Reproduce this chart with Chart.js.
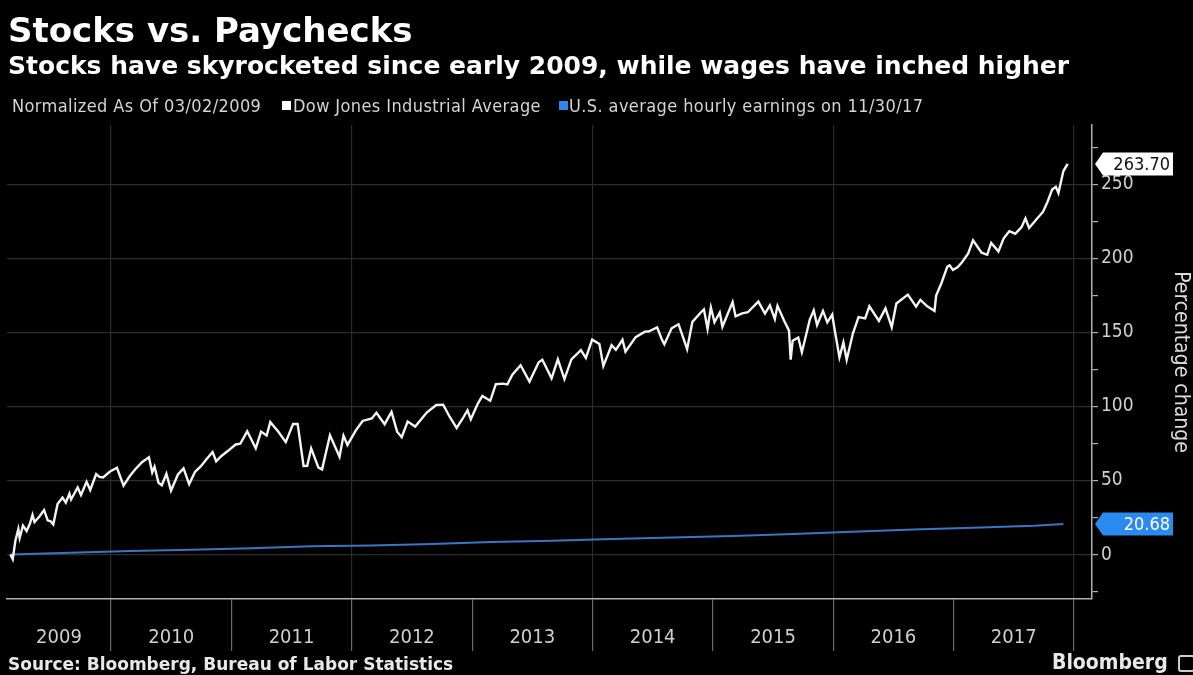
<!DOCTYPE html>
<html>
<head>
<meta charset="utf-8">
<script src="https://cdn.jsdelivr.net/npm/chart.js@4.4.1/dist/chart.umd.min.js"></script>
<style>
    html, body { margin: 0; padding: 0; background: #000; }
    #wrap { position: relative; width: 1193px; height: 675px; background: #000; overflow: hidden;
            font-family: "DejaVu Sans", sans-serif; }
    #wrap canvas { position: absolute; left: 0; top: 0; }
    .txt { position: absolute; white-space: nowrap; line-height: 1; }
    .title { left: 8px; top: 13px; font-size: 34px; font-weight: bold; color: #fff; }
    .subtitle { left: 8px; top: 53px; font-size: 25px; font-weight: bold; color: #fff; }
    .legend { top: 97px; font-size: 18px; letter-spacing: 0.4px; color: #d4d4d4;
              font-family: "DejaVu Sans Condensed", "DejaVu Sans", sans-serif; }
    .sq { position: absolute; top: 101px; width: 9px; height: 9px; }
    .source { left: 8px; top: 656px; font-size: 17px; font-weight: bold; color: #e8e8e8; }
    .brand { left: 1052px; top: 652px; font-size: 21px; font-weight: bold; color: #e8e8e8;
             font-family: "DejaVu Sans Condensed", "DejaVu Sans", sans-serif; }
    .logo { position: absolute; left: 1178px; top: 655px; width: 13px; height: 13px; border: 2px solid #ccc; border-radius: 3px; }
</style>
</head>
<body>
<div id="wrap">
    <canvas id="paycheckChart"></canvas>
    <div class="txt title">Stocks vs. Paychecks</div>
    <div class="txt subtitle">Stocks have skyrocketed since early 2009, while wages have inched higher</div>
    <div class="txt legend" style="left:12px">Normalized As Of 03/02/2009</div>
    <div class="sq" style="left:282px;background:#fff"></div>
    <div class="txt legend" style="left:293px">Dow Jones Industrial Average</div>
    <div class="sq" style="left:559px;background:#2f86e8"></div>
    <div class="txt legend" style="left:569px">U.S. average hourly earnings on 11/30/17</div>
    <div class="txt source">Source: Bloomberg, Bureau of Labor Statistics</div>
    <div class="txt brand">Bloomberg</div>
    <div class="logo"></div>
</div>
<script>
// Dow Jones, % change since 03/02/2009
const djDates = [
    '2009-03-02','2009-03-09','2009-03-17','2009-03-26','2009-03-30','2009-04-09','2009-04-20','2009-04-30',
    '2009-05-08','2009-05-14','2009-05-29','2009-06-12','2009-06-23','2009-07-02','2009-07-10','2009-07-23',
    '2009-08-07','2009-08-17','2009-08-28','2009-09-02','2009-09-22','2009-10-02','2009-10-19','2009-10-30',
    '2009-11-17','2009-11-27','2009-12-08','2009-12-28',
    '2010-01-19','2010-02-08','2010-02-26','2010-03-15','2010-04-05','2010-04-26','2010-05-06','2010-05-13',
    '2010-05-25','2010-06-04','2010-06-18','2010-07-02','2010-07-23','2010-08-09','2010-08-26','2010-09-13',
    '2010-09-30','2010-10-15','2010-11-05','2010-11-16','2010-12-01','2010-12-20',
    '2011-01-14','2011-01-28','2011-02-18','2011-03-16','2011-04-01','2011-04-18','2011-04-29','2011-05-23',
    '2011-06-15','2011-07-07','2011-07-21','2011-08-08','2011-08-19','2011-08-31','2011-09-22','2011-10-03',
    '2011-10-27','2011-11-25','2011-12-07','2011-12-19',
    '2012-01-13','2012-02-03','2012-03-02','2012-03-16','2012-04-10','2012-05-01','2012-05-18','2012-06-01',
    '2012-06-19','2012-07-12','2012-08-16','2012-09-14','2012-10-05','2012-10-23','2012-11-15','2012-12-03',
    '2012-12-18','2012-12-28',
    '2013-01-18','2013-02-01','2013-02-25','2013-03-14','2013-04-05','2013-04-18','2013-05-03','2013-05-28',
    '2013-06-24','2013-07-22','2013-08-02','2013-08-30','2013-09-18','2013-10-08','2013-10-29','2013-11-27',
    '2013-12-12','2013-12-31',
    '2014-01-22','2014-02-03','2014-02-28','2014-03-13','2014-04-02','2014-04-11','2014-05-12','2014-06-09',
    '2014-06-20','2014-07-16','2014-07-31','2014-08-07','2014-08-29','2014-09-19','2014-10-15','2014-10-31',
    '2014-11-26','2014-12-05','2014-12-16','2014-12-26',
    '2015-01-06','2015-01-22','2015-01-30','2015-03-02','2015-03-11','2015-03-31','2015-04-17','2015-05-19',
    '2015-06-08','2015-06-23','2015-07-08','2015-07-16','2015-08-06','2015-08-20','2015-08-25','2015-08-31',
    '2015-09-17','2015-09-28','2015-10-22','2015-11-03','2015-11-13','2015-12-01','2015-12-14','2015-12-29',
    '2016-01-04','2016-01-20','2016-02-01','2016-02-11','2016-03-01','2016-03-18','2016-04-07','2016-04-20',
    '2016-05-19','2016-06-08','2016-06-27','2016-07-11','2016-08-15','2016-09-09','2016-09-22','2016-10-13',
    '2016-11-04','2016-11-09','2016-11-25','2016-12-13','2016-12-20','2016-12-30',
    '2017-01-13','2017-01-26','2017-02-14','2017-03-01','2017-03-27','2017-04-13','2017-04-25','2017-05-17',
    '2017-06-02','2017-06-19','2017-07-07','2017-07-26','2017-08-07','2017-08-18','2017-08-29','2017-09-12',
    '2017-09-29','2017-10-13','2017-10-27','2017-11-07','2017-11-15','2017-11-30','2017-12-13'
];
const djValues = [
    0.0, -3.2, 9.3, 17.2, 11.2, 19.5, 15.9, 20.8,
    26.8, 22.0, 25.7, 30.1, 23.1, 22.4, 20.4, 34.1,
    38.5, 35.1, 41.1, 37.2, 45.3, 40.3, 49.2, 43.6,
    54.3, 52.4, 52.1, 55.9,
    58.6, 46.5, 52.7, 57.4, 62.3, 65.7, 55.5, 59.4,
    48.5, 46.8, 54.5, 43.2, 54.1, 58.2, 47.6, 55.9,
    59.5, 63.6, 69.2, 63.0, 66.4, 69.7,
    74.3, 74.8, 83.2, 71.7, 83.0, 80.4, 89.4, 83.1,
    75.9, 88.1, 88.1, 59.8, 59.9, 71.7, 58.7, 57.5,
    80.5, 66.1, 80.3, 74.0,
    83.7, 90.2, 91.9, 95.7, 88.0, 96.3, 82.9, 79.2,
    89.8, 86.4, 95.9, 101.0, 101.2, 93.7, 85.5, 91.7,
    97.4, 91.3,
    101.8, 107.1, 103.8, 115.0, 115.4, 114.9, 121.4, 127.8,
    116.8, 129.8, 131.5, 119.0, 131.8, 118.5, 131.8, 138.0,
    132.7, 145.1,
    142.1, 127.3, 141.3, 138.2, 145.0, 137.0, 146.8, 150.5,
    150.6, 153.4, 144.9, 142.0, 152.8, 155.5, 138.7, 157.1,
    163.6, 165.5, 152.4, 166.9,
    156.8, 163.4, 153.8, 170.4, 160.8, 162.8, 163.6, 170.8,
    162.7, 168.3, 159.0, 167.9, 157.5, 151.2, 131.6, 144.4,
    146.5, 136.6, 158.6, 164.9, 155.0, 164.5, 156.8, 162.0,
    153.6, 133.1, 143.2, 131.5, 149.4, 160.3, 159.4, 167.6,
    157.8, 166.2, 153.4, 169.5, 175.5, 167.4, 171.9, 167.6,
    164.5, 174.8, 183.2, 194.4, 195.3, 192.2,
    194.0, 197.2, 203.2, 212.2, 203.8, 202.4, 210.4, 204.7,
    213.5, 218.3, 216.6, 221.0, 227.0, 220.5, 223.3, 227.0,
    231.3, 238.2, 246.5, 248.3, 244.1, 258.9, 263.70
];

// U.S. average hourly earnings, % change since 03/2009
const wageDates = [
    '2009-03-02','2009-09-01','2010-03-01','2010-09-01','2011-03-01','2011-09-01','2012-03-01','2012-09-01',
    '2013-03-01','2013-09-01','2014-03-01','2014-09-01','2015-03-01','2015-09-01','2016-03-01','2016-09-01',
    '2017-03-01','2017-09-01','2017-11-30'
];
const wageValues = [0, 1.3, 2.4, 3.2, 4.3, 5.6, 6.2, 7.1, 8.4, 9.4, 10.5, 11.6, 12.6, 13.9, 15.4, 16.9, 18.1, 19.5, 20.68];

const yearLabels = ['2009', '2010', '2011', '2012', '2013', '2014', '2015', '2016', '2017'];
const yTickValues = [-25, 0, 25, 50, 75, 100, 125, 150, 175, 200, 225, 250, 275];

const X_MIN = 2009.136;
const X_MAX = 2018.15;

function toYear(s) {
    const [y, m, d] = s.split('-').map(Number);
    const start = Date.UTC(y, 0, 1);
    const end = Date.UTC(y + 1, 0, 1);
    return y + (Date.UTC(y, m - 1, d) - start) / (end - start);
}

// year label sits in the middle of its band, separators on Jan 1
const xTicks = [];
const xTickText = {};
yearLabels.forEach(function(lab) {
    const yr = Number(lab);
    const left = Math.max(yr, X_MIN);
    const mid = (left + yr + 1) / 2;
    xTicks.push({ value: mid });
    xTickText[mid] = lab;
    xTicks.push({ value: yr + 1 });
});
function isSeparator(v) { return Math.abs(v - Math.round(v)) < 1e-6; }

// boxed value tags on the right axis
const endLabels = {
    id: 'endLabels',
    afterDraw(chart) {
        const ctx = chart.ctx;
        const yScale = chart.scales.y;
        const tip = chart.chartArea.right + 3;
        ctx.save();
        ctx.font = '18px "DejaVu Sans Condensed", "DejaVu Sans"';
        ctx.textBaseline = 'middle';
        chart.data.datasets.forEach(function(ds) {
            const last = ds.data[ds.data.length - 1];
            const yy = Math.round(yScale.getPixelForValue(last.y));
            const h = 23;
            const boxL = tip + 8;
            const boxR = 1173;
            ctx.fillStyle = ds.tagBg;
            ctx.beginPath();
            ctx.moveTo(tip, yy);
            ctx.lineTo(boxL, yy - h / 2);
            ctx.lineTo(boxR, yy - h / 2);
            ctx.lineTo(boxR, yy + h / 2);
            ctx.lineTo(boxL, yy + h / 2);
            ctx.closePath();
            ctx.fill();
            ctx.fillStyle = ds.tagColor;
            ctx.textAlign = 'right';
            ctx.fillText(last.y.toFixed(2), boxR - 3, yy + 1);
        });
        ctx.restore();
    }
};

document.addEventListener('DOMContentLoaded', function() {
    const ctx = document.getElementById('paycheckChart').getContext('2d');
    new Chart(ctx, {
        type: 'line',
        data: {
            datasets: [{
                label: 'Dow Jones Industrial Average',
                data: djDates.map((d, i) => ({ x: toYear(d), y: djValues[i] })),
                borderColor: '#f4f4f4',
                borderWidth: 2.4,
                pointRadius: 0,
                tension: 0,
                tagBg: '#ffffff',
                tagColor: '#111111'
            }, {
                label: 'U.S. average hourly earnings on 11/30/17',
                data: wageDates.map((d, i) => ({ x: toYear(d), y: wageValues[i] })),
                borderColor: '#3b74c6',
                borderWidth: 2,
                pointRadius: 0,
                tension: 0,
                tagBg: '#2a8af0',
                tagColor: '#ffffff'
            }]
        },
        options: {
            responsive: true,
            maintainAspectRatio: false,
            animation: false,
            layout: { padding: { top: 125, left: 7, right: 0, bottom: 25 } },
            plugins: {
                legend: { display: false },
                tooltip: { enabled: false }
            },
            scales: {
                x: {
                    type: 'linear',
                    min: X_MIN,
                    max: X_MAX,
                    afterBuildTicks: function(scale) { scale.ticks = xTicks.map(t => ({ value: t.value })); },
                    afterFit: function(scale) { scale.height = 51; },
                    border: { color: '#b0b0b0', width: 1.5 },
                    grid: {
                        color: c => (isSeparator(c.tick.value) && c.tick.value % 2 === 0) ? '#2c2c2c' : 'rgba(0,0,0,0)',
                        tickColor: c => isSeparator(c.tick.value) ? '#6a6a6a' : 'rgba(0,0,0,0)',
                        tickLength: 52,
                        lineWidth: 1.2
                    },
                    ticks: {
                        autoSkip: false,
                        maxRotation: 0,
                        padding: -25,
                        color: '#cfcfcf',
                        font: { family: '"DejaVu Sans Condensed", "DejaVu Sans"', size: 20 },
                        callback: v => xTickText[v] || ''
                    }
                },
                y: {
                    position: 'right',
                    min: -30,
                    max: 290,
                    afterBuildTicks: function(scale) { scale.ticks = yTickValues.map(v => ({ value: v })); },
                    afterFit: function(scale) { scale.width = 101; },
                    border: { color: '#b0b0b0', width: 1.5 },
                    grid: {
                        color: c => (c.tick.value % 50 === 0) ? '#2c2c2c' : 'rgba(0,0,0,0)',
                        tickColor: '#b0b0b0',
                        tickLength: 6,
                        lineWidth: 1.2
                    },
                    ticks: {
                        padding: 3,
                        color: '#cfcfcf',
                        font: { family: '"DejaVu Sans Condensed", "DejaVu Sans"', size: 19 },
                        callback: v => (v % 50 === 0 ? String(v) : '')
                    },
                    title: {
                        display: true,
                        text: 'Percentage change',
                        color: '#dcdcdc',
                        padding: { top: 0, bottom: 0 },
                        font: { family: '"DejaVu Sans Condensed", "DejaVu Sans"', size: 21 }
                    }
                }
            }
        },
        plugins: [endLabels]
    });
});
</script>
</body>
</html>
